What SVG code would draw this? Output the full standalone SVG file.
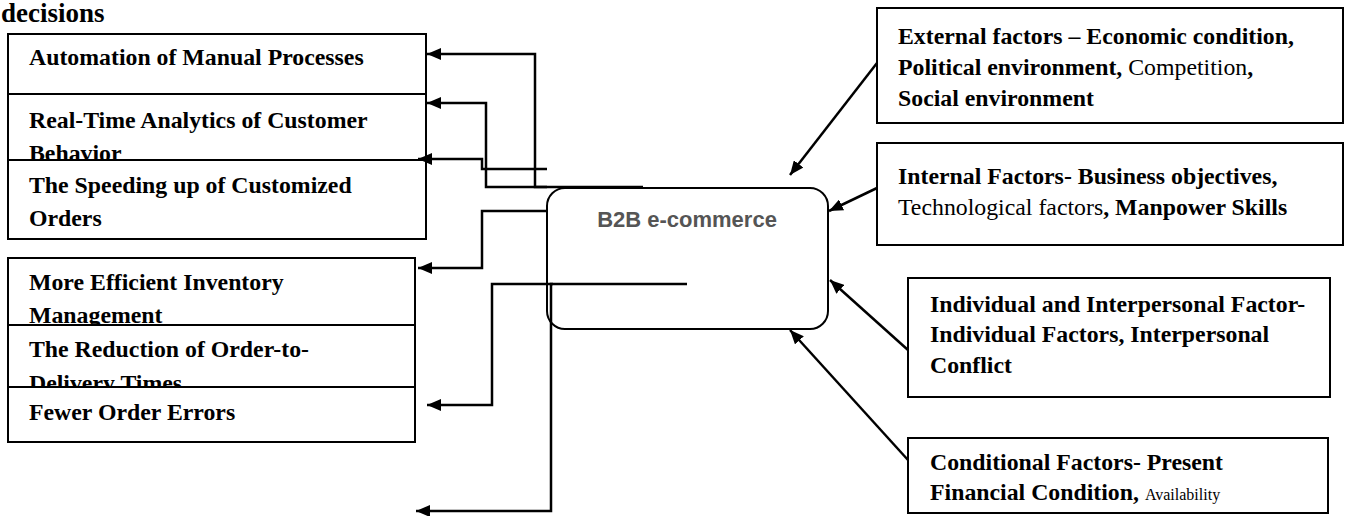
<svg xmlns="http://www.w3.org/2000/svg" width="1359" height="516" viewBox="0 0 1359 516">
<style>
.box{fill:#fff;stroke:#000;stroke-width:2}
.t{font-family:"Liberation Serif","Times New Roman",serif;font-size:23.8px;fill:#000}
.b{font-weight:bold}
.c{fill:none;stroke:#000;stroke-width:2.5}
.ctr{fill:#fff;stroke:#000;stroke-width:2}
.ct{font-family:"Liberation Sans",Arial,sans-serif;font-size:22px;font-weight:bold;fill:#555}
</style>
<defs>
<marker id="ah" viewBox="0 0 14 12" refX="14" refY="6" markerWidth="14" markerHeight="12" markerUnits="userSpaceOnUse" orient="auto">
<path d="M0,0 L14,6 L0,12 z" fill="#000"/>
</marker>
</defs>
<rect width="1359" height="516" fill="#fff"/>
<text class="t b" x="1" y="22" style="font-size:27px">decisions</text>

<g id="box-automation">
<rect class="box" x="8" y="34" width="418" height="60"/>
<text class="t b" x="29" y="65">Automation of Manual Processes</text>
</g>
<g id="box-realtime">
<rect class="box" x="8" y="94" width="418" height="66"/>
<text class="t b" x="29" y="128">Real-Time Analytics of Customer</text>
<text class="t b" x="29" y="161">Behavior</text>
</g>
<g id="box-speeding">
<rect class="box" x="8" y="160" width="418" height="79"/>
<text class="t b" x="29" y="193">The Speeding up of Customized</text>
<text class="t b" x="29" y="226">Orders</text>
</g>
<g id="box-inventory">
<rect class="box" x="8" y="258" width="407" height="67"/>
<text class="t b" x="29" y="290">More Efficient Inventory</text>
<text class="t b" x="29" y="323">Management</text>
</g>
<g id="box-reduction">
<rect class="box" x="8" y="325" width="407" height="62"/>
<text class="t b" x="29" y="357">The Reduction of Order-to-</text>
<text class="t b" x="29" y="391">Delivery Times</text>
</g>
<g id="box-errors">
<rect class="box" x="8" y="387" width="407" height="55"/>
<text class="t b" x="29" y="420">Fewer Order Errors</text>
</g>

<g id="box-external">
<rect class="box" x="877" y="8" width="466" height="115"/>
<text class="t b" x="898" y="44">External factors – Economic condition,</text>
<text class="t" x="898" y="75"><tspan class="b">Political environment,</tspan> Competition<tspan class="b">,</tspan></text>
<text class="t b" x="898" y="106">Social environment</text>
</g>
<g id="box-internal">
<rect class="box" x="877" y="143" width="466" height="102"/>
<text class="t b" x="898" y="184">Internal Factors- Business objectives,</text>
<text class="t" x="898" y="215">Technological factors<tspan class="b">, Manpower Skills</tspan></text>
</g>
<g id="box-individual">
<rect class="box" x="908" y="278" width="422" height="119"/>
<text class="t b" x="930" y="312">Individual and Interpersonal Factor-</text>
<text class="t b" x="930" y="342">Individual Factors, Interpersonal</text>
<text class="t b" x="930" y="373">Conflict</text>
</g>
<g id="box-conditional">
<rect class="box" x="908" y="438" width="420" height="75"/>
<text class="t b" x="930" y="470">Conditional Factors- Present</text>
<text class="t" x="930" y="500"><tspan class="b">Financial Condition,</tspan> <tspan style="font-size:16px">Availability</tspan></text>
</g>

<g id="node-b2b">
<rect class="ctr" x="547" y="188" width="281" height="141" rx="18" ry="18"/>
<text class="ct" x="687" y="227" text-anchor="middle">B2B e-commerce</text>
</g>

<g id="connectors">
<path class="c" d="M547,187 H535 V54 H427" marker-end="url(#ah)"/>
<path class="c" d="M643,187 H486 V103 H427" marker-end="url(#ah)"/>
<path class="c" d="M547,169 H482 V159 H418" marker-end="url(#ah)"/>
<path class="c" d="M547,211 H482 V268 H418" marker-end="url(#ah)"/>
<path class="c" d="M687,284 H492 V405 H427" marker-end="url(#ah)"/>
<path class="c" d="M553,284 H551 V511 H416" marker-end="url(#ah)"/>
<path class="c" d="M877,63 L790,175" marker-end="url(#ah)"/>
<path class="c" d="M877,188 L829,211" marker-end="url(#ah)"/>
<path class="c" d="M908,350 L830,280" marker-end="url(#ah)"/>
<path class="c" d="M908,460 L790,330" marker-end="url(#ah)"/>
</g>
</svg>
